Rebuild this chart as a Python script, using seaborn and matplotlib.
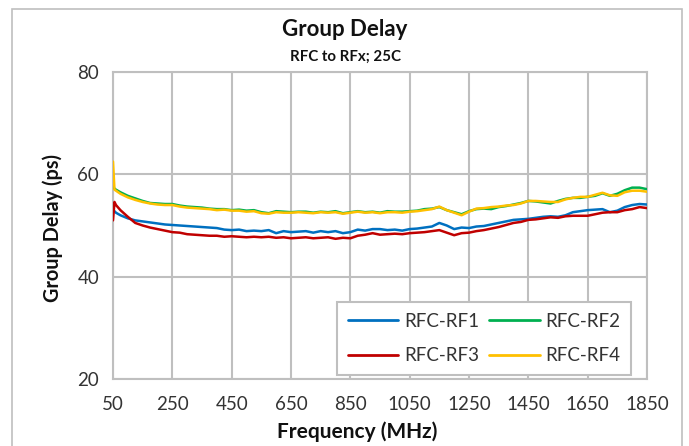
import matplotlib
matplotlib.use("Agg")
import matplotlib.pyplot as plt
import seaborn as sns
import pandas as pd
from matplotlib.patches import Rectangle
from matplotlib.lines import Line2D

freq = [50, 55, 60] + list(range(75, 1851, 25))

rf1 = [52.6, 52.8, 52.5, 52.0, 51.4, 51.0, 50.8, 50.6, 50.4, 50.2, 50.1, 50.0, 49.9,
       49.8, 49.7, 49.6, 49.5, 49.2, 49.1, 49.2, 48.9, 49.0, 48.9, 49.1, 48.5, 48.9,
       48.7, 48.8, 48.9, 48.6, 48.9, 48.7, 48.9, 48.5, 48.7, 49.2, 49.0, 49.3, 49.3,
       49.1, 49.2, 49.0, 49.3, 49.4, 49.6, 49.8, 50.5, 50.0, 49.3, 49.6, 49.5, 49.8,
       49.9, 50.2, 50.5, 50.8, 51.1, 51.2, 51.3, 51.5, 51.7, 51.8, 51.7, 52.0, 52.6,
       52.8, 53.0, 53.1, 53.2, 52.6, 52.9, 53.6, 54.0, 54.2, 54.1]

rf2 = [57.8, 57.2, 57.0, 56.5, 55.8, 55.3, 54.8, 54.4, 54.3, 54.2, 54.2, 53.9, 53.7,
       53.6, 53.5, 53.3, 53.2, 53.2, 53.0, 53.1, 52.9, 53.0, 52.6, 52.4, 52.8, 52.7,
       52.6, 52.7, 52.7, 52.5, 52.7, 52.6, 52.8, 52.4, 52.6, 52.8, 52.6, 52.7, 52.5,
       52.8, 52.7, 52.7, 52.8, 52.9, 53.2, 53.3, 53.6, 53.0, 52.6, 52.2, 52.8, 53.2,
       53.3, 53.2, 53.6, 53.8, 54.1, 54.4, 54.8, 54.7, 54.5, 54.3, 54.8, 55.2, 55.4,
       55.4, 55.6, 55.8, 56.3, 55.8, 56.2, 56.9, 57.4, 57.4, 57.1]

rf3 = [51.0, 54.6, 54.0, 53.0, 51.7, 50.5, 50.0, 49.6, 49.3, 49.0, 48.7, 48.6, 48.3,
       48.2, 48.1, 48.0, 48.0, 47.8, 47.9, 47.8, 47.7, 47.8, 47.7, 47.8, 47.6, 47.7,
       47.5, 47.6, 47.7, 47.5, 47.6, 47.7, 47.4, 47.6, 47.5, 48.0, 48.2, 48.5, 48.2,
       48.3, 48.4, 48.3, 48.5, 48.6, 48.7, 48.9, 49.1, 48.6, 48.1, 48.5, 48.6, 48.9,
       49.1, 49.4, 49.7, 50.1, 50.5, 50.7, 51.1, 51.2, 51.4, 51.6, 51.5, 51.8, 51.9,
       51.9, 51.9, 52.2, 52.5, 52.6, 52.6, 53.0, 53.2, 53.6, 53.4]

rf4 = [62.5, 57.0, 56.8, 56.2, 55.5, 55.0, 54.6, 54.3, 54.1, 54.0, 54.0, 53.7, 53.5,
       53.4, 53.3, 53.2, 53.0, 53.1, 52.9, 52.9, 52.7, 52.8, 52.4, 52.3, 52.6, 52.5,
       52.5, 52.6, 52.5, 52.4, 52.6, 52.5, 52.6, 52.3, 52.5, 52.7, 52.5, 52.6, 52.4,
       52.6, 52.6, 52.5, 52.7, 52.8, 53.0, 53.2, 53.7, 53.0, 52.5, 52.0, 52.7, 53.3,
       53.4, 53.6, 53.7, 53.9, 54.0, 54.3, 54.8, 54.8, 54.7, 54.6, 54.6, 55.1, 55.4,
       55.6, 55.6, 56.0, 56.4, 55.9, 55.8, 56.5, 56.8, 56.8, 56.6]

series_names = ["RFC-RF1", "RFC-RF2", "RFC-RF3", "RFC-RF4"]
x_ticks = list(range(50, 1851, 200))
y_ticks = [20, 40, 60, 80]

title = "Group Delay"
subtitle = "RFC to RFx; 25C"
x_label = "Frequency (MHz)"
y_label = "Group Delay (ps)"

colors = {"RFC-RF1": "#0070C0", "RFC-RF2": "#00B050",
          "RFC-RF3": "#C00000", "RFC-RF4": "#FFC000"}

rows = []
for name, vals in zip(series_names, [rf1, rf2, rf3, rf4]):
    for f, v in zip(freq, vals):
        rows.append({"freq": f, "delay": v, "series": name})
df = pd.DataFrame(rows)

sns.set_theme(style="white")
plt.rcParams["font.family"] = ["Lato", "DejaVu Sans"]

fig = plt.figure(figsize=(6.89, 4.46), dpi=100)
ax = fig.add_axes([113 / 689, 1 - 379 / 446, (647 - 113) / 689, (379 - 72) / 446])

grid_c = "#BFBFBF"
sns.lineplot(data=df, x="freq", y="delay", hue="series", hue_order=series_names,
             palette=colors, linewidth=1.8, ax=ax, legend=False, zorder=3)

ax.set_xlim(50, 1850)
ax.set_ylim(20, 80)
ax.set_xticks(x_ticks)
ax.set_yticks(y_ticks)
ax.grid(True, color=grid_c, linewidth=1.5)
for s in ax.spines.values():
    s.set_color(grid_c)
    s.set_linewidth(1.5)
ax.tick_params(axis="both", length=0, labelsize=13.5, colors="#333333", pad=10)
ax.tick_params(axis="x", pad=12)
ax.set_xlabel(x_label, fontsize=15, fontweight="bold", color="#111111")
ax.set_ylabel(y_label, fontsize=14.3, fontweight="bold", color="#111111")
ax.xaxis.set_label_coords((357 - 113) / 534, (379 - 432) / 307)
ax.xaxis.label.set_va("center")
ax.yaxis.set_label_coords((53 - 113) / 534, (379 - 228) / 307)
ax.yaxis.label.set_va("center")

# legend (row-wise order RF1, RF2 / RF3, RF4)
handles = {n: Line2D([], [], color=colors[n], linewidth=2) for n in series_names}
order = ["RFC-RF1", "RFC-RF3", "RFC-RF2", "RFC-RF4"]
leg = ax.legend([handles[n] for n in order], order, ncol=2, loc="lower right",
                bbox_to_anchor=(0.970, 0.014), fontsize=13.5, frameon=True,
                fancybox=False, edgecolor=grid_c, framealpha=1,
                handlelength=2.7, columnspacing=0.55, labelspacing=0.95,
                borderpad=0.55, handletextpad=0.3, borderaxespad=0)
leg.get_frame().set_linewidth(1.5)
for t in leg.get_texts():
    t.set_color("#333333")

fig.text(345 / 689, 1 - 30 / 446, title, ha="center", va="center",
         fontsize=16, fontweight="bold", color="#111111")
fig.text(345 / 689, 1 - 57 / 446, subtitle, ha="center", va="center",
         fontsize=10.8, fontweight="bold", color="#111111")

# outer chart border
fig.patches.append(Rectangle((12 / 689, -0.01), (682 - 12) / 689, 1 - 9 / 446 + 0.01,
                             transform=fig.transFigure, fill=False,
                             edgecolor="#BFBFBF", linewidth=1.2))

fig.savefig("out.png", dpi=100)
